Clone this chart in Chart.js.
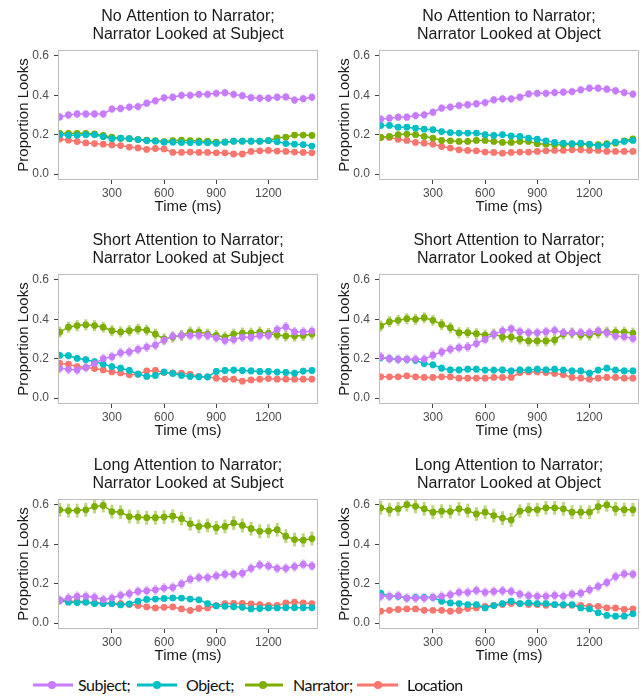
<!DOCTYPE html>
<html><head><meta charset="utf-8">
<script src="https://cdn.jsdelivr.net/npm/chart.js@4/dist/chart.umd.min.js"></script>
<style>
html,body{margin:0;padding:0;background:#fff;width:643px;height:698px;overflow:hidden;position:relative;}
canvas.panel{position:absolute;}
.sw{position:absolute;top:678px;}
.lt{position:absolute;top:675px;font-family:Lato,"Open Sans",sans-serif;font-size:16px;letter-spacing:-0.5px;color:#111;line-height:20px;white-space:nowrap;}
</style></head><body>
<canvas id="c0" class="panel" width="322" height="224" style="left:0;top:0"></canvas>
<canvas id="c1" class="panel" width="322" height="224" style="left:321px;top:0"></canvas>
<canvas id="c2" class="panel" width="322" height="224" style="left:0;top:224px"></canvas>
<canvas id="c3" class="panel" width="322" height="224" style="left:321px;top:224px"></canvas>
<canvas id="c4" class="panel" width="322" height="224" style="left:0;top:449px"></canvas>
<canvas id="c5" class="panel" width="322" height="224" style="left:321px;top:449px"></canvas>

<svg class="sw" style="left:33px" width="40" height="14"><line x1="0" y1="7" x2="40" y2="7" stroke="#C77CFF" stroke-width="3"/><circle cx="19" cy="7" r="4" fill="#C77CFF"/></svg>
<span class="lt" style="left:78px">Subject;</span>
<svg class="sw" style="left:137px" width="40" height="14"><line x1="0" y1="7" x2="40" y2="7" stroke="#00BFC4" stroke-width="3"/><circle cx="20" cy="7" r="4" fill="#00BFC4"/></svg>
<span class="lt" style="left:186px">Object;</span>
<svg class="sw" style="left:245px" width="38" height="14"><line x1="0" y1="7" x2="38" y2="7" stroke="#7CAE00" stroke-width="3"/><circle cx="18" cy="7" r="4" fill="#7CAE00"/></svg>
<span class="lt" style="left:293px">Narrator;</span>
<svg class="sw" style="left:357px" width="41" height="14"><line x1="0" y1="7" x2="41" y2="7" stroke="#F8766D" stroke-width="3"/><circle cx="21" cy="7" r="4" fill="#F8766D"/></svg>
<span class="lt" style="left:407px">Location</span>

<script>
// ---- data ----
const times = [0,50,100,150,200,250,300,350,400,450,500,550,600,650,700,750,800,850,900,950,1000,1050,1100,1150,1200,1250,1300,1350,1400,1450];
const xTickValues = [300, 600, 900, 1200];
const yTickValues = [0.0, 0.2, 0.4, 0.6];
const seriesNames = ["Subject", "Object", "Narrator", "Location"];
const seriesColors = ["#C77CFF", "#00BFC4", "#7CAE00", "#F8766D"];

// Panel A: No Attention to Narrator; Narrator Looked at Subject
const A_subject  = [0.29,0.30,0.305,0.305,0.305,0.305,0.33,0.333,0.34,0.343,0.36,0.372,0.387,0.39,0.40,0.40,0.405,0.405,0.41,0.413,0.405,0.398,0.388,0.385,0.385,0.39,0.392,0.376,0.383,0.39];
const A_object   = [0.20,0.197,0.197,0.20,0.20,0.19,0.18,0.182,0.18,0.175,0.17,0.167,0.162,0.162,0.16,0.16,0.16,0.159,0.156,0.162,0.167,0.167,0.167,0.167,0.17,0.164,0.155,0.152,0.15,0.142];
const A_narrator = [0.207,0.207,0.207,0.207,0.204,0.197,0.187,0.182,0.18,0.175,0.172,0.17,0.165,0.17,0.172,0.17,0.168,0.167,0.162,0.163,0.167,0.167,0.167,0.167,0.17,0.184,0.187,0.198,0.198,0.196];
const A_location = [0.178,0.172,0.165,0.158,0.155,0.152,0.148,0.145,0.137,0.133,0.125,0.13,0.128,0.11,0.11,0.112,0.11,0.11,0.108,0.108,0.102,0.102,0.115,0.118,0.12,0.117,0.115,0.112,0.11,0.108];
const A_err      = [0.02, 0.015, 0.015, 0.012];

// Panel B: No Attention to Narrator; Narrator Looked at Object
const B_subject  = [0.279,0.284,0.289,0.289,0.297,0.301,0.314,0.335,0.34,0.348,0.352,0.357,0.363,0.377,0.382,0.382,0.39,0.407,0.41,0.41,0.414,0.416,0.419,0.428,0.436,0.436,0.431,0.423,0.414,0.406];
const B_object   = [0.247,0.247,0.238,0.238,0.233,0.228,0.225,0.216,0.211,0.208,0.208,0.208,0.20,0.196,0.20,0.194,0.191,0.183,0.177,0.169,0.161,0.157,0.154,0.157,0.152,0.145,0.149,0.162,0.166,0.171];
const B_narrator = [0.186,0.191,0.20,0.203,0.20,0.191,0.183,0.171,0.169,0.166,0.166,0.171,0.171,0.166,0.161,0.161,0.166,0.166,0.154,0.152,0.149,0.149,0.152,0.152,0.149,0.149,0.154,0.157,0.169,0.179];
const B_location = [0.186,0.186,0.177,0.171,0.161,0.157,0.152,0.14,0.132,0.123,0.12,0.118,0.112,0.11,0.106,0.11,0.112,0.112,0.115,0.118,0.12,0.12,0.123,0.123,0.12,0.12,0.115,0.115,0.115,0.115];
const B_err      = [0.02, 0.015, 0.015, 0.012];

// Panel C: Short Attention to Narrator; Narrator Looked at Subject
const C_subject  = [0.151,0.146,0.143,0.155,0.175,0.20,0.21,0.23,0.234,0.247,0.259,0.269,0.294,0.314,0.318,0.318,0.318,0.318,0.306,0.292,0.297,0.309,0.309,0.318,0.318,0.348,0.362,0.336,0.336,0.34];
const C_object   = [0.217,0.215,0.202,0.195,0.185,0.172,0.16,0.152,0.14,0.122,0.11,0.115,0.132,0.125,0.115,0.11,0.108,0.108,0.135,0.14,0.142,0.14,0.138,0.135,0.135,0.132,0.13,0.126,0.137,0.14];
const C_narrator = [0.335,0.36,0.368,0.372,0.368,0.36,0.342,0.336,0.342,0.35,0.345,0.325,0.30,0.31,0.318,0.335,0.335,0.325,0.318,0.31,0.325,0.33,0.33,0.335,0.328,0.32,0.315,0.315,0.318,0.325];
const C_location = [0.176,0.172,0.16,0.155,0.15,0.143,0.133,0.128,0.118,0.121,0.138,0.14,0.13,0.128,0.126,0.121,0.11,0.108,0.101,0.096,0.096,0.086,0.092,0.096,0.099,0.096,0.096,0.096,0.096,0.096];
const C_err      = [0.025, 0.018, 0.028, 0.015];

// Panel D: Short Attention to Narrator; Narrator Looked at Object
const D_subject  = [0.209,0.20,0.197,0.197,0.197,0.197,0.218,0.234,0.248,0.256,0.26,0.277,0.298,0.324,0.341,0.352,0.337,0.332,0.332,0.337,0.344,0.332,0.332,0.332,0.332,0.341,0.332,0.315,0.312,0.303];
const D_object   = [0.206,0.20,0.197,0.197,0.192,0.175,0.169,0.152,0.143,0.143,0.147,0.147,0.142,0.142,0.143,0.138,0.143,0.143,0.147,0.143,0.147,0.142,0.138,0.138,0.126,0.142,0.152,0.142,0.138,0.138];
const D_narrator = [0.366,0.388,0.395,0.403,0.40,0.408,0.395,0.374,0.357,0.332,0.332,0.327,0.32,0.325,0.31,0.31,0.30,0.29,0.29,0.29,0.295,0.325,0.33,0.32,0.32,0.33,0.335,0.335,0.335,0.33];
const D_location = [0.108,0.108,0.108,0.113,0.108,0.105,0.105,0.108,0.108,0.101,0.101,0.101,0.101,0.105,0.105,0.105,0.13,0.133,0.133,0.13,0.125,0.118,0.105,0.101,0.096,0.101,0.105,0.105,0.101,0.101];
const D_err      = [0.025, 0.018, 0.028, 0.015];

// Panel E: Long Attention to Narrator; Narrator Looked at Subject
const E_subject  = [0.116,0.127,0.136,0.136,0.131,0.119,0.127,0.141,0.149,0.161,0.164,0.169,0.178,0.181,0.199,0.223,0.231,0.231,0.24,0.248,0.248,0.253,0.278,0.295,0.29,0.278,0.278,0.287,0.298,0.29];
const E_object   = [0.116,0.106,0.104,0.106,0.099,0.099,0.099,0.092,0.097,0.112,0.12,0.122,0.125,0.128,0.127,0.122,0.118,0.099,0.087,0.085,0.083,0.08,0.072,0.074,0.077,0.077,0.078,0.078,0.078,0.078];
const E_narrator = [0.575,0.571,0.571,0.575,0.592,0.597,0.566,0.563,0.541,0.538,0.535,0.535,0.538,0.543,0.53,0.504,0.491,0.496,0.484,0.491,0.508,0.496,0.479,0.466,0.467,0.474,0.441,0.424,0.421,0.429];
const E_location = [0.116,0.111,0.111,0.107,0.102,0.102,0.099,0.099,0.094,0.089,0.082,0.077,0.08,0.082,0.072,0.064,0.074,0.077,0.089,0.099,0.10,0.10,0.097,0.094,0.09,0.09,0.102,0.106,0.102,0.099];
const E_err      = [0.025, 0.015, 0.035, 0.015];

// Panel F: Long Attention to Narrator; Narrator Looked at Object
const F_subject  = [0.136,0.136,0.139,0.127,0.127,0.127,0.131,0.136,0.144,0.156,0.156,0.166,0.156,0.161,0.164,0.161,0.147,0.139,0.136,0.136,0.141,0.136,0.147,0.152,0.169,0.186,0.206,0.236,0.25,0.248];
const F_object   = [0.152,0.136,0.136,0.127,0.131,0.131,0.131,0.111,0.102,0.099,0.094,0.094,0.077,0.089,0.099,0.111,0.099,0.102,0.099,0.099,0.094,0.094,0.094,0.077,0.072,0.052,0.039,0.035,0.035,0.047];
const F_narrator = [0.585,0.575,0.58,0.601,0.593,0.58,0.563,0.568,0.566,0.58,0.571,0.554,0.563,0.546,0.533,0.524,0.568,0.576,0.576,0.585,0.585,0.58,0.563,0.563,0.563,0.591,0.60,0.58,0.576,0.576];
const F_location = [0.06,0.065,0.069,0.072,0.072,0.065,0.065,0.065,0.06,0.064,0.074,0.077,0.085,0.09,0.094,0.099,0.099,0.094,0.094,0.09,0.094,0.09,0.09,0.09,0.085,0.085,0.077,0.077,0.069,0.072];
const F_err      = [0.025, 0.015, 0.035, 0.012];

const panelTitles = [
  ["No Attention to Narrator;", "Narrator Looked at Subject"],
  ["No Attention to Narrator;", "Narrator Looked at Object"],
  ["Short Attention to Narrator;", "Narrator Looked at Subject"],
  ["Short Attention to Narrator;", "Narrator Looked at Object"],
  ["Long Attention to Narrator;", "Narrator Looked at Subject"],
  ["Long Attention to Narrator;", "Narrator Looked at Object"]
];
const panelSeries = [
  [A_subject, A_object, A_narrator, A_location],
  [B_subject, B_object, B_narrator, B_location],
  [C_subject, C_object, C_narrator, C_location],
  [D_subject, D_object, D_narrator, D_location],
  [E_subject, E_object, E_narrator, E_location],
  [F_subject, F_object, F_narrator, F_location]
];
const panelErrors = [A_err, B_err, C_err, D_err, E_err, F_err];

// ---- rendering ----
const FONT = "'Liberation Sans', Arial, Helvetica, sans-serif";

function hexA(hex, a) {
  const n = parseInt(hex.slice(1), 16);
  return `rgba(${(n>>16)&255},${(n>>8)&255},${n&255},${a})`;
}

const errorBarPlugin = {
  id: 'errorBars',
  beforeDatasetsDraw(chart, args, opts) {
    const {ctx, chartArea, scales} = chart;
    const errs = opts.errors || [];
    ctx.save();
    ctx.beginPath();
    ctx.rect(chartArea.left, chartArea.top, chartArea.right - chartArea.left, chartArea.bottom - chartArea.top);
    ctx.clip();
    for (let d = chart.data.datasets.length - 1; d >= 0; d--) {
      const ds = chart.data.datasets[d];
      const e = errs[d] || 0;
      ctx.strokeStyle = hexA(ds.borderColor, 0.5);
      ctx.lineWidth = 3;
      ds.data.forEach(p => {
        const x = scales.x.getPixelForValue(p.x);
        const y1 = scales.y.getPixelForValue(p.y - e);
        const y2 = scales.y.getPixelForValue(p.y + e);
        ctx.beginPath();
        ctx.moveTo(x, y1);
        ctx.lineTo(x, y2);
        ctx.stroke();
      });
    }
    ctx.restore();
  }
};

const borderPlugin = {
  id: 'panelBorder',
  afterDraw(chart) {
    const {ctx, chartArea: a} = chart;
    ctx.save();
    ctx.strokeStyle = '#BDBDBD';
    ctx.lineWidth = 1;
    ctx.strokeRect(Math.round(a.left) + 0.5, Math.round(a.top) + 0.5,
                   Math.round(a.right - a.left) - 1, Math.round(a.bottom - a.top) - 1);
    ctx.restore();
  }
};

function axisCommon() {
  return {
    grid: {display: true, drawOnChartArea: false, drawTicks: true, tickLength: 4, tickColor: '#444444', tickWidth: 1},
    border: {display: false}
  };
}

panelSeries.forEach((series, p) => {
  const datasets = series.map((vals, s) => ({
    label: seriesNames[s],
    data: times.map((t, i) => ({x: t, y: vals[i]})),
    borderColor: seriesColors[s],
    backgroundColor: seriesColors[s],
    pointBackgroundColor: seriesColors[s],
    pointBorderColor: seriesColors[s],
    borderWidth: 1.5,
    pointRadius: 3.4,
    pointBorderWidth: 0,
    tension: 0,
    fill: false
  }));
  new Chart(document.getElementById('c' + p), {
    type: 'line',
    data: {datasets},
    plugins: [errorBarPlugin, borderPlugin],
    options: {
      responsive: false,
      animation: false,
      devicePixelRatio: 1,
      events: [],
      layout: {padding: {left: 0, right: 3, top: 0, bottom: 0}},
      plugins: {
        legend: {display: false},
        tooltip: {enabled: false},
        errorBars: {errors: panelErrors[p]},
        title: {
          display: true,
          text: panelTitles[p],
          fullSize: false,
          color: '#1a1a1a',
          font: {family: FONT, size: 16, weight: 'normal', lineHeight: 1.15},
          padding: {top: 7, bottom: 6.2}
        }
      },
      scales: {
        x: Object.assign(axisCommon(), {
          type: 'linear',
          min: -10,
          max: 1485,
          afterBuildTicks: s => { s.ticks = xTickValues.map(v => ({value: v})); },
          ticks: {font: {family: FONT, size: 12}, color: '#4D4D4D', padding: 2, maxRotation: 0, autoSkip: false,
                  callback: v => String(v)},
          title: {display: true, text: 'Time (ms)', color: '#1a1a1a', font: {family: FONT, size: 15}, padding: {top: 0, bottom: 8}},
          afterFit: s => { s.height = 44; }
        }),
        y: Object.assign(axisCommon(), {
          min: -0.03,
          max: 0.63,
          afterBuildTicks: s => { s.ticks = yTickValues.map(v => ({value: v})); },
          ticks: {font: {family: FONT, size: 12}, color: '#4D4D4D', padding: 5, autoSkip: false,
                  callback: v => Number(v).toFixed(1)},
          title: {display: true, text: 'Proportion Looks', color: '#1a1a1a', font: {family: FONT, size: 15}, padding: {top: 14.5, bottom: 0}},
          afterFit: s => { s.width = 58; }
        })
      }
    }
  });
});
</script>
</body></html>
